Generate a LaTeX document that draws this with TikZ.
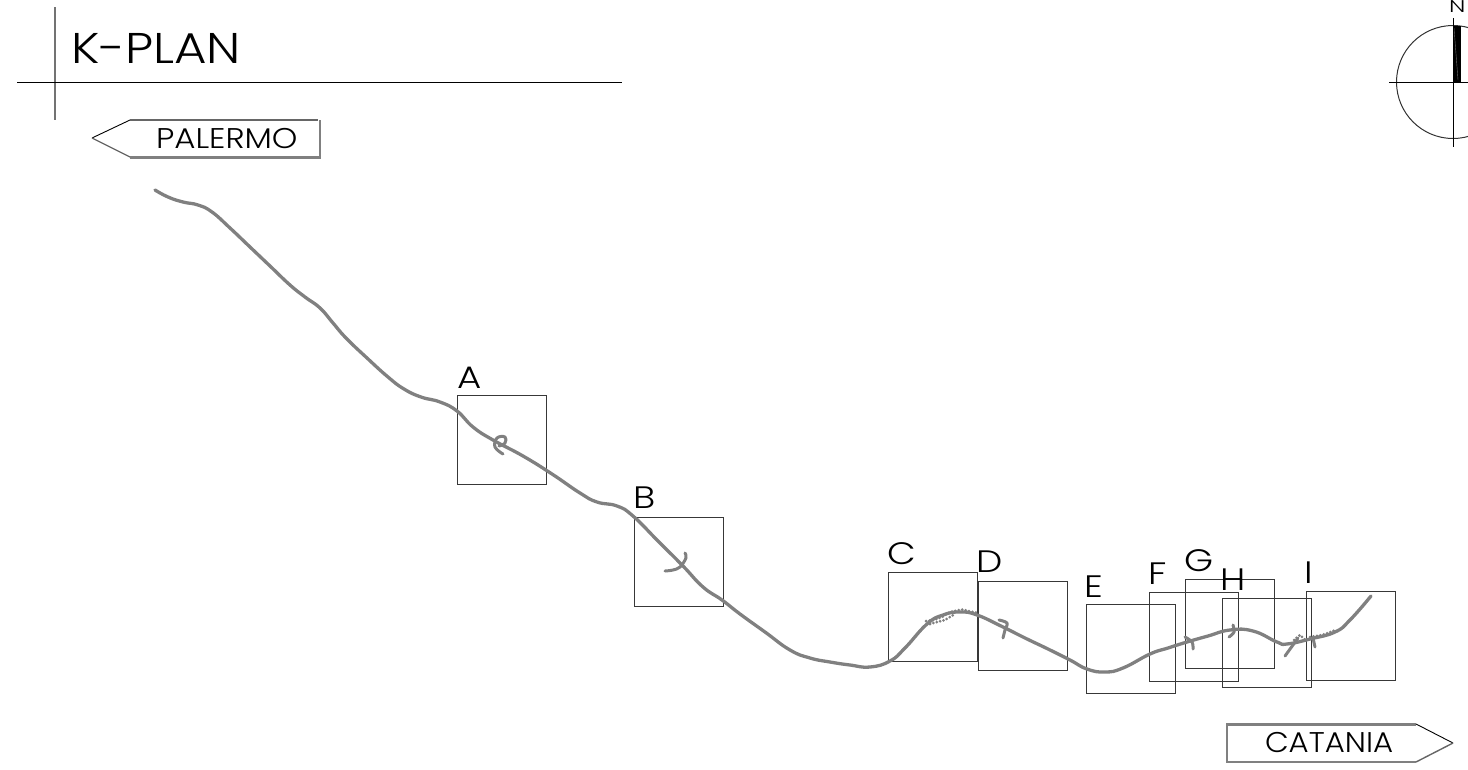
\documentclass[tikz,border=0pt]{standalone}
\usepackage{fontspec}
\newfontfamily\lab{Poppins Light}
\newcommand{\lsize}[1]{\fontsize{#1}{#1}\selectfont\lab}
\newcommand{\wide}[2]{\scalebox{#1}[1]{#2}}
\tikzset{
  every node/.style={inner sep=0pt,outer sep=0pt},
  route/.style={draw=black!50,line width=3.3pt,line cap=round,line join=round},
  spur/.style={draw=black!50,line width=3pt,line cap=round,line join=round},
  rough/.style={draw=black!50,line width=3pt,line cap=round,dash pattern=on 0pt off 3.5pt},
  framebox/.style={draw=black!78,line width=1pt,rectangle,minimum width=#1,minimum height=#1},
  rule/.style={line width=1pt,draw=black},
  greyrule/.style={line width=1.2pt,draw=black!55},
  shadow/.style={line width=2.8pt,draw=black!50},
  boxlabel/.style={anchor=base west,font=\lsize{31}},
  signlabel/.style={anchor=base west,font=\lsize{28.5}},
}
\begin{document}
\begin{tikzpicture}[x=1pt,y=-1pt]
\useasboundingbox (0,0) rectangle (1468,769);
% title
\draw[greyrule] (55,7) -- (55,120);
\draw[rule] (17,82) -- (622,82);
\node[anchor=base west,font=\lsize{43}] (title) at (71,63) {\wide{1.16}{K-PLAN}};
% PALERMO sign
\draw[line width=.9pt,black] (130,120) -- (92,138);
\draw[line width=1.2pt,black!60] (92,138) -- (130,157);
\draw[line width=1.2pt,black!60] (130,120) -- (318,120);
\draw[shadow] (130,157.5) -- (320,157.5) -- (320,120);
\node[signlabel] (palermo) at (156,148) {\wide{1.14}{PALERMO}};
% CATANIA sign
\draw[shadow] (1416,724.5) -- (1227,724.5) -- (1227,762) -- (1416,762);
\draw[line width=.9pt,black] (1416,724) -- (1453,743);
\draw[line width=1.4pt,black!60] (1453,743) -- (1416,762);
\node[signlabel] (catania) at (1265,752) {\wide{1.08}{CATANIA}};
% compass
\begin{scope}
\clip (1380,0) rectangle (1468,160);
\draw[line width=1pt,black!80] (1453,82) circle[radius=56.5];
\fill[black] (1453,26) rectangle (1461,82);
\draw[line width=.4pt,black!55] (1454,28) -- (1458,80);
\draw[rule] (1389,82) -- (1468,82);
\draw[rule] (1453,18) -- (1453,147);
\end{scope}
\node[anchor=base west,font=\lsize{17}] (north) at (1449,12.5) {\wide{1.4}{N}};
% frames
\node[framebox=89pt] (fa) at (502,440) {};
\node[framebox=89pt] (fb) at (679,561.5) {};
\node[framebox=89pt] (fc) at (933,617) {};
\node[framebox=89pt] (fd) at (1022.5,625.5) {};
\node[framebox=89pt] (fe) at (1131,649) {};
\node[framebox=89pt] (ff) at (1194,637) {};
\node[framebox=89pt] (fg) at (1230,624) {};
\node[framebox=89pt] (fh) at (1266.5,643) {};
\node[framebox=89pt] (fi) at (1350.5,636) {};
% labels
\node[boxlabel] (la) at (457,388) {\wide{1.2}{A}};
\node[boxlabel] (lb) at (633,508) {\wide{1.2}{B}};
\node[boxlabel] (lc) at (887,564) {\wide{1.2}{C}};
\node[boxlabel] (ld) at (976,572) {\wide{1.2}{D}};
\node[boxlabel] (le) at (1084,597) {\wide{1.2}{E}};
\node[boxlabel] (lf) at (1148,584) {\wide{1.2}{F}};
\node[boxlabel] (lg) at (1184,571) {\wide{1.2}{G}};
\node[boxlabel] (lh) at (1220,590) {\wide{1.2}{H}};
\node[boxlabel] (li) at (1304,583) {\wide{1.2}{I}};
% route
\draw[route] plot[smooth,tension=.8] coordinates {
(155,190) (168,197) (183,202) (198,205) (212,212) (230,228) (250,247) (270,266) (290,285)
(305,297) (320,308) (333,323) (346,338) (367,358) (388,377) (404,389) (421,397) (440,402)
(457,411) (473,427) (493,440) (523,456) (552,474) (580,493) (597,502) (617,506) (633,516)
(658,541) (683,566) (703,587) (722,600) (740,614) (765,632) (790,650) (810,658) (830,662)
(850,665) (870,667) (890,661) (905,648) (927,624) (943,615) (960,612) (977,615) (1003,627)
(1025,638) (1048,649) (1070,660) (1087,669) (1105,672) (1123,668) (1150,654) (1168,648)
(1187,642) (1208,636) (1230,630) (1253,631) (1277,642) (1287,644) (1310,639) (1335,632)
(1350,620) (1371,596)};
% spurs
\draw[spur] plot[smooth,tension=.7] coordinates {(503,454) (495,447) (497,438) (505,437) (505,443) (499,446)};
\draw[spur] plot[smooth,tension=.6] coordinates {(665,571) (673,570) (680,567) (686,558) (685,553)};
\draw[spur] plot[smooth,tension=.6] coordinates {(999,620) (1007,623) (1005,630) (1003,638)};
\draw[spur] plot[smooth,tension=.6] coordinates {(1185,637) (1192,642) (1193,649)};
\draw[spur] plot[smooth,tension=.6] coordinates {(1233,625) (1234,632) (1229,637)};
\draw[spur] (1285,656) -- (1298,638);
\draw[spur] (1313,638) -- (1315,647);
% rough patches
\draw[rough] (926,621) -- (934,620) -- (942,617) -- (950,612) -- (962,609.5) -- (978,613);
\draw[rough] (930,624) -- (945,620) -- (955,614);
\draw[rough] (1310,637) -- (1322,635) -- (1336,630);
\draw[rough] (1294,640) -- (1300,635) -- (1306,641);
\end{tikzpicture}
\end{document}
